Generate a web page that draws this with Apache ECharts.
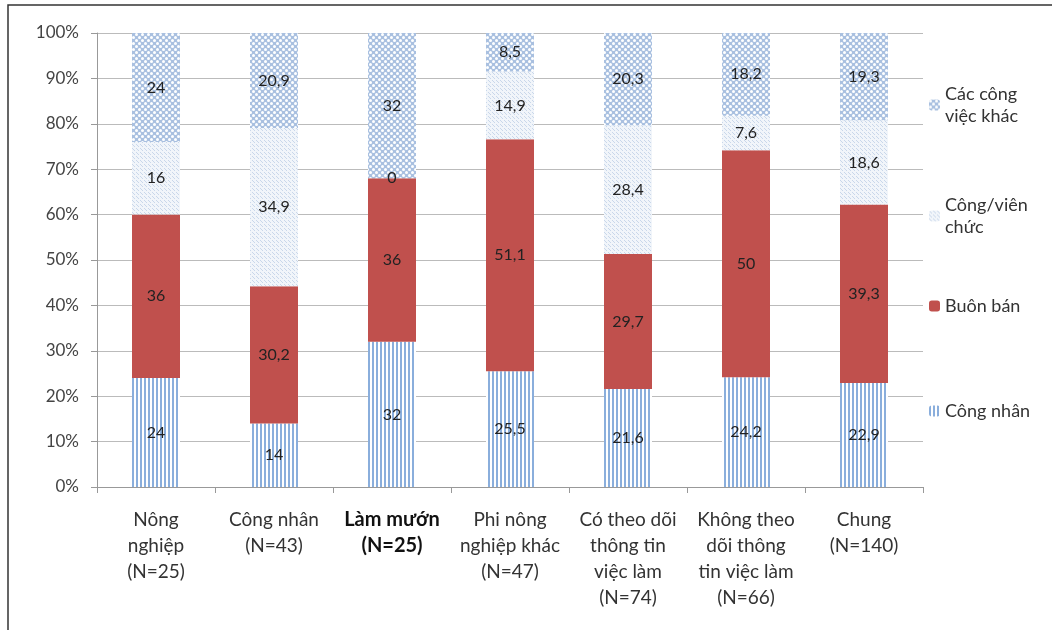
<!DOCTYPE html>
<html><head><meta charset="utf-8">
<script src="https://cdn.jsdelivr.net/npm/echarts@6/dist/echarts.min.js"></script>
<style>html,body{margin:0;padding:0;background:#fff}#c{width:1052px;height:630px}</style>
</head><body><div id="c"></div>
<script>
const categories = ["Nông\nnghiệp\n(N=25)", "Công nhân\n(N=43)", "Làm mướn\n(N=25)", "Phi nông\nnghiệp khác\n(N=47)", "Có theo dõi\nthông tin\nviệc làm\n(N=74)", "Không theo\ndõi thông\ntin việc làm\n(N=66)", "Chung\n(N=140)"];
const seriesNames = ["Công nhân", "Buôn bán", "Công/viên chức", "Các công việc khác"];
const congNhan = [24, 14, 32, 25.5, 21.6, 24.2, 22.9];
const buonBan = [36, 30.2, 36, 51.1, 29.7, 50, 39.3];
const congVienChuc = [16, 34.9, 0, 14.9, 28.4, 7.6, 18.6];
const congViecKhac = [24, 20.9, 32, 8.5, 20.3, 18.2, 19.3];
const yTicks = [0, 10, 20, 30, 40, 50, 60, 70, 80, 90, 100];

function mk(w, h, draw) { const c = document.createElement('canvas'); c.width = w; c.height = h; const g = c.getContext('2d'); draw(g); return c; }
const stripes = mk(4, 4, g => { g.fillStyle = '#fff'; g.fillRect(0,0,4,4); g.fillStyle = '#8aaedc'; g.fillRect(0,0,2,4); });
const dots = mk(4, 4, g => { g.fillStyle = '#f1f5fa'; g.fillRect(0,0,4,4); g.fillStyle = '#c9d7ea'; g.fillRect(0,0,1,1); g.fillRect(2,2,1,1); g.fillRect(1,1,1,1); });
const mesh = mk(6, 6, g => { g.fillStyle = '#a9c0e0'; g.fillRect(0,0,6,6); g.fillStyle = '#fff';
  g.beginPath(); g.arc(1.5,1.5,1.5,0,Math.PI*2); g.fill(); g.beginPath(); g.arc(4.5,4.5,1.5,0,Math.PI*2); g.fill(); });

const fills = [
  {image: stripes, repeat: 'repeat'},
  '#C0504D',
  {image: dots, repeat: 'repeat'},
  {image: mesh, repeat: 'repeat'}
];
const dataArr = [congNhan, buonBan, congVienChuc, congViecKhac];
const FONT = 'Lato, "Noto Sans", sans-serif';

const series = dataArr.map((d, i) => ({
  name: seriesNames[i], type: 'bar', stack: 'all', barWidth: 48,
  data: d,
  itemStyle: {color: fills[i]},
  label: {show: true, position: 'inside', color: '#222', fontSize: 16, fontFamily: FONT,
    formatter: p => String(p.value).replace('.', ',')}
}));

const legendTops = [[seriesNames[3], 'Các công\nviệc khác', 83], [seriesNames[2], 'Công/viên\nchức', 194], [seriesNames[1], 'Buôn bán', 295], [seriesNames[0], 'Công nhân', 400]];
const legends = legendTops.map(([n, txt, top]) => ({
  data: [n], left: 929, top: top, orient: 'vertical', itemWidth: 11, itemHeight: 11, padding: 0, itemGap: 5,
  formatter: () => txt,
  textStyle: {fontSize: 18, color: '#333', fontFamily: FONT, lineHeight: 22}
}));

const chart = echarts.init(document.getElementById('c'));
chart.setOption({
  animation: false,
  backgroundColor: '#fff',
  grid: {left: 97, right: 129, top: 33, bottom: 143},
  legend: legends,
  xAxis: {type: 'category', data: categories,
    axisLine: {lineStyle: {color: '#999'}},
    axisTick: {show: true, length: 6, lineStyle: {color: '#999'}},
    axisLabel: {interval: 0, color: '#333', fontSize: 19, fontFamily: FONT, lineHeight: 26, margin: 20,
      formatter: (v) => v.indexOf('Làm mướn') === 0 ? '{b|' + v.split('\n').join('}\n{b|') + '}' : v,
      rich: {b: {fontWeight: 'bold', fontSize: 20, color: '#111', fontFamily: FONT, lineHeight: 26}}}
  },
  yAxis: {type: 'value', min: 0, max: 100, interval: 10,
    axisLine: {show: true, lineStyle: {color: '#999'}},
    axisTick: {show: true, length: 6, lineStyle: {color: '#999'}},
    splitLine: {lineStyle: {color: '#bbb'}},
    axisLabel: {formatter: v => yTicks.includes(v) ? v + '%' : '', color: '#444', fontSize: 17, fontFamily: FONT, margin: 18}
  },
  graphic: [
    {type: 'polyline', shape: {points: [[8, 630], [8, 5], [1052, 5]]}, style: {stroke: '#333', lineWidth: 1.5, fill: null}}
  ],
  series: series
});
</script></body></html>
